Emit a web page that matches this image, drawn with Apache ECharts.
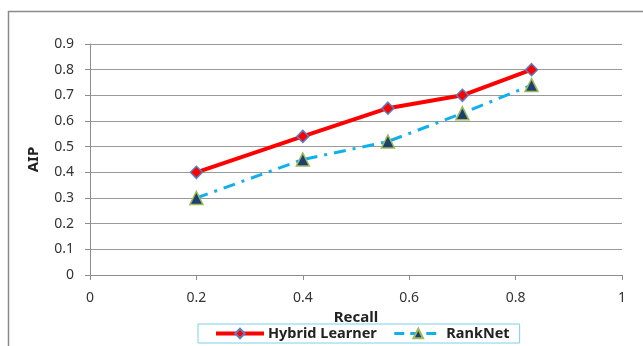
<!DOCTYPE html>
<html><head><meta charset="utf-8">
<script src="https://cdn.jsdelivr.net/npm/echarts@6/dist/echarts.min.js"></script>
<style>html,body{margin:0;padding:0;background:#fff}#c{width:643px;height:346px}</style>
</head><body><div id="c"></div>
<script>
const recallHybrid = [0.2, 0.4, 0.56, 0.7, 0.83];
const aipHybrid = [0.40, 0.54, 0.65, 0.70, 0.80];
const recallRank = [0.2, 0.4, 0.56, 0.7, 0.83];
const aipRank = [0.30, 0.45, 0.52, 0.63, 0.74];
const seriesNames = ['Hybrid Learner', 'RankNet'];

const chart = echarts.init(document.getElementById('c'), null, {renderer: 'canvas'});
const font = 'Noto Sans';
chart.setOption({
  animation: false,
  backgroundColor: '#fff',
  graphic: [{
    type: 'rect', left: 6, top: 9, silent: true,
    shape: {x: 0, y: 0, width: 700, height: 400},
    style: {fill: 'none', stroke: '#8a8a8a', lineWidth: 1.5}
  }],
  grid: {left: 90, right: 21, top: 44, bottom: 71},
  xAxis: {
    type: 'value', min: 0, max: 1, interval: 0.2,
    name: 'Recall', nameLocation: 'middle', nameGap: 31,
    nameTextStyle: {fontFamily: font, fontWeight: 'bold', fontSize: 15, color: '#222'},
    axisLine: {show: true, lineStyle: {color: '#8c8c8c', width: 1}},
    axisTick: {show: true, length: 5, lineStyle: {color: '#8c8c8c'}},
    axisLabel: {fontFamily: font, fontSize: 14, color: '#333', margin: 16},
    splitLine: {show: false}
  },
  yAxis: {
    type: 'value', min: 0, max: 0.9, interval: 0.1,
    name: 'AIP', nameLocation: 'middle', nameGap: 49,
    nameTextStyle: {fontFamily: font, fontWeight: 'bold', fontSize: 15, color: '#222'},
    axisLine: {show: true, lineStyle: {color: '#8c8c8c', width: 1}},
    axisTick: {show: true, length: 5, lineStyle: {color: '#8c8c8c'}},
    axisLabel: {fontFamily: font, fontSize: 14, color: '#333', margin: 16,
      formatter: v => String(Math.round(v * 10) / 10)},
    splitLine: {show: true, lineStyle: {color: '#9a9a9a', width: 1}}
  },
  legend: {
    bottom: 3, left: 198,
    data: [
      {name: seriesNames[0], lineStyle: {width: 4}},
      {name: seriesNames[1], lineStyle: {width: 3, type: [10, 6]}}
    ],
    itemWidth: 48, itemHeight: 12, itemGap: 16,
    borderColor: '#7fcfee', borderWidth: 1, padding: [2, 10, 2, 16],
    textStyle: {fontFamily: font, fontWeight: 'bold', fontSize: 14.5, color: '#222', padding: [0, 0, 0, -1]}
  },
  series: [
    {
      name: seriesNames[0], type: 'line',
      data: recallHybrid.map((x, i) => [x, aipHybrid[i]]),
      symbol: 'diamond', symbolSize: 12,
      lineStyle: {color: '#ff0000', width: 4},
      itemStyle: {color: '#ff0000', borderColor: '#5b7fc0', borderWidth: 1.5},
      z: 3
    },
    {
      name: seriesNames[1], type: 'line',
      data: recallRank.map((x, i) => [x, aipRank[i]]),
      symbol: 'triangle', symbolSize: 13,
      lineStyle: {color: '#12b0ea', width: 3, type: [12, 7, 3, 7]},
      itemStyle: {color: '#1f3f70', borderColor: '#9bbb59', borderWidth: 1.5},
      z: 2
    }
  ]
});
</script></body></html>
